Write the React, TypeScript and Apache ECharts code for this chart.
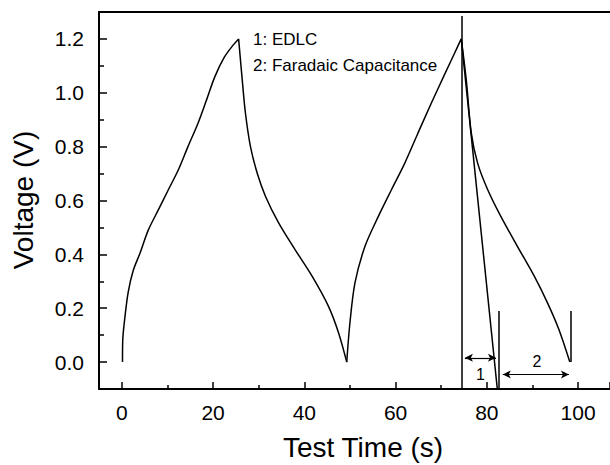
import React, { useEffect, useRef } from "react";
import * as echarts from "echarts";

// Galvanostatic charge / discharge curve segments (time in s, voltage in V)
const charge1T = [0.15, 0.2, 0.7, 1.4, 2.5, 4.0, 5.8, 8.0, 10.2, 12.4, 14.5, 16.7, 18.5, 20.4, 22.5, 24.4, 25.6];
const charge1V = [0.0, 0.08, 0.17, 0.26, 0.34, 0.405, 0.49, 0.565, 0.64, 0.714, 0.8, 0.887, 0.97, 1.06, 1.133, 1.177, 1.2];

const discharge1T = [25.6, 26.4, 27.1, 28.2, 29.7, 31.5, 34.4, 38.0, 41.7, 45.3, 47.5, 49.3];
const discharge1V = [1.2, 1.047, 0.924, 0.8, 0.7, 0.615, 0.516, 0.417, 0.319, 0.207, 0.109, 0.0];

const charge2T = [49.3, 50.0, 51.1, 53.3, 56.2, 59.1, 62.0, 64.9, 67.8, 70.8, 72.9, 74.4];
const charge2V = [0.0, 0.146, 0.294, 0.43, 0.54, 0.64, 0.738, 0.85, 0.96, 1.07, 1.146, 1.2];

const discharge2T = [74.4, 75.5, 76.6, 78.0, 80.2, 83.1, 86.7, 90.4, 93.3, 95.8, 98.2];
const discharge2V = [1.2, 1.047, 0.85, 0.738, 0.64, 0.54, 0.43, 0.319, 0.22, 0.121, 0.0];

// straight EDLC discharge line
const edlcT = [74.4, 82.3];
const edlcV = [1.2, -0.1];

// vertical marker lines
const vLineT = [74.4, 82.7, 98.3];
const vLineTop = [1.285, 0.19, 0.19];
const vLineBottom = [-0.1, -0.1, 0.0];

// double-headed arrows
const arrowStartT = [75.2, 83.5];
const arrowEndT = [82.0, 98.0];
const arrowV = [0.016, -0.046];

// span labels
const spanLabels = ["1", "2"];
const spanLabelT = [78.6, 91.0];
const spanLabelV = [-0.045, 0.002];

const noteTexts = ["1: EDLC", "2: Faradaic Capacitance"];

const xTitle = "Test Time (s)";
const yTitle = "Voltage (V)";

const FONT = "'Liberation Sans', Arial, Helvetica, sans-serif";

const zip = (a: number[], b: number[]) => a.map((v, i) => [v, b[i]]);

export default function App() {
  const ref = useRef<HTMLDivElement>(null);

  useEffect(() => {
    if (!ref.current) return;
    const chart = echarts.init(ref.current, undefined, { renderer: "svg" });

    const curveSeries = (data: number[][]) => ({
      type: "line",
      data,
      smooth: 0.3,
      symbol: "none",
      lineStyle: { color: "#000", width: 1.5 },
      silent: true,
    });

    const option: any = {
      animation: false,
      backgroundColor: "#fff",
      grid: { left: 99, top: 12, bottom: 76, right: -2.5 },
      xAxis: [
        {
          type: "value",
          min: -5,
          max: 107,
          splitNumber: 5,
          axisLine: { show: true, onZero: false, lineStyle: { color: "#000", width: 2 } },
          axisTick: { show: true, inside: true, length: 7, lineStyle: { color: "#000", width: 1.5 } },
          minorTick: { show: true, splitNumber: 2, length: 4, lineStyle: { color: "#000", width: 1.5 } },
          axisLabel: {
            color: "#000",
            fontSize: 21,
            fontFamily: FONT,
            margin: 13,
            showMinLabel: false,
            showMaxLabel: false,
          },
          splitLine: { show: false },
        },
        {
          type: "value",
          position: "top",
          min: -5,
          max: 107,
          axisLine: { show: true, onZero: false, lineStyle: { color: "#000", width: 2 } },
          axisTick: { show: false },
          axisLabel: { show: false },
          splitLine: { show: false },
        },
      ],
      yAxis: {
        type: "value",
        min: -0.1,
        max: 1.3,
        splitNumber: 7,
        axisLine: { show: true, onZero: false, lineStyle: { color: "#000", width: 2 } },
        axisTick: { show: true, inside: true, length: 8, lineStyle: { color: "#000", width: 1.5 } },
        minorTick: { show: true, splitNumber: 2, length: 5, lineStyle: { color: "#000", width: 1.5 } },
        axisLabel: {
          color: "#000",
          fontSize: 21,
          fontFamily: FONT,
          margin: 15,
          showMinLabel: false,
          showMaxLabel: false,
          formatter: (v: number) => v.toFixed(1),
        },
        splitLine: { show: false },
      },
      series: [
        curveSeries(zip(charge1T, charge1V)),
        curveSeries(zip(discharge1T, discharge1V)),
        curveSeries(zip(charge2T, charge2V)),
        curveSeries(zip(discharge2T, discharge2V)),
        {
          type: "line",
          data: zip(edlcT, edlcV),
          symbol: "none",
          lineStyle: { color: "#000", width: 1.5 },
          silent: true,
          markLine: {
            silent: true,
            symbol: "none",
            label: { show: false },
            lineStyle: { color: "#000", width: 1.5, type: "solid" },
            data: vLineT.map((t, i) => [
              { coord: [t, vLineBottom[i]] },
              { coord: [t, vLineTop[i]] },
            ]),
          },
        },
        {
          type: "line",
          data: [],
          symbol: "none",
          silent: true,
          markLine: {
            silent: true,
            symbol: ["arrow", "arrow"],
            symbolSize: [6, 8],
            label: { show: false },
            lineStyle: { color: "#000", width: 1.2, type: "solid" },
            data: arrowStartT.map((t, i) => [
              { coord: [t, arrowV[i]] },
              { coord: [arrowEndT[i], arrowV[i]] },
            ]),
          },
        },
      ],
      graphic: [
        {
          type: "text",
          x: 23,
          y: 200,
          rotation: Math.PI / 2,
          style: {
            text: yTitle,
            fill: "#000",
            font: `28px ${FONT}`,
            align: "center",
            verticalAlign: "middle",
          },
        },
        {
          type: "text",
          x: 363,
          y: 447,
          style: {
            text: xTitle,
            fill: "#000",
            font: `28px ${FONT}`,
            align: "center",
            verticalAlign: "middle",
          },
        },
        ...noteTexts.map((t, i) => ({
          type: "text",
          x: 253,
          y: 39 + i * 26,
          style: {
            text: t,
            fill: "#000",
            font: `17px ${FONT}`,
            align: "left",
            verticalAlign: "middle",
          },
        })),
      ],
    };

    chart.setOption(option);

    // span labels placed through the axis scales
    const labelGraphics = spanLabels.map((s, i) => {
      const p = chart.convertToPixel({ xAxisIndex: 0, yAxisIndex: 0 }, [spanLabelT[i], spanLabelV[i]]) as number[];
      return {
        type: "text",
        x: p[0],
        y: p[1],
        style: {
          text: s,
          fill: "#000",
          font: `16px ${FONT}`,
          align: "center",
          verticalAlign: "middle",
        },
      };
    });
    chart.setOption({ graphic: [...option.graphic, ...labelGraphics] });

    return () => chart.dispose();
  }, []);

  return (
    <div
      ref={ref}
      style={{ position: "fixed", left: 0, top: 0, width: 610, height: 465, background: "#fff" }}
    />
  );
}
